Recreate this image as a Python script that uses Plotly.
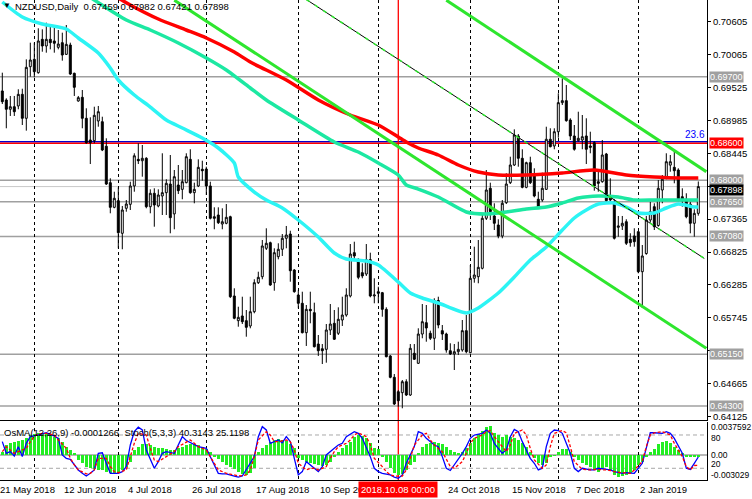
import plotly.graph_objects as go

FONT = "Liberation Sans, Arial, sans-serif"

# daily bars NZDUSD, May 2018 - Jan 2019
opens = [0.69466, 0.69318, 0.69166, 0.69208, 0.69220, 0.69411, 0.69018, 0.69864, 0.69985, 0.69766,
         0.70313, 0.70204, 0.70313, 0.70286, 0.70182, 0.70258, 0.70067, 0.70220, 0.69756, 0.69302,
         0.69362, 0.69018, 0.68662, 0.68651, 0.68974, 0.68962, 0.68560, 0.67962, 0.67558, 0.67667,
         0.67132, 0.67542, 0.67607, 0.67908, 0.68345, 0.68322, 0.68362, 0.67568, 0.67788, 0.67580,
         0.67744, 0.67798, 0.67940, 0.67450, 0.67924, 0.67853, 0.67962, 0.68345, 0.67798, 0.67908,
         0.68182, 0.68186, 0.67908, 0.67404, 0.67432, 0.67284, 0.67296, 0.67404, 0.66104, 0.65699,
         0.65776, 0.65699, 0.65612, 0.65846, 0.66322, 0.66420, 0.66886, 0.66978, 0.66322, 0.66748,
         0.66870, 0.67050, 0.67120, 0.66530, 0.66120, 0.65984, 0.65502, 0.65885, 0.65830, 0.65316,
         0.65239, 0.65229, 0.65546, 0.65656, 0.65492, 0.65710, 0.65792, 0.66104, 0.66814, 0.66705,
         0.66486, 0.66464, 0.66700, 0.66104, 0.66174, 0.66158, 0.65885, 0.65120, 0.64770, 0.64534,
         0.64518, 0.64698, 0.64480, 0.65164, 0.65000, 0.65480, 0.65666, 0.65492, 0.65410, 0.66030,
         0.65535, 0.65480, 0.65206, 0.65152, 0.65190, 0.65218, 0.65535, 0.65174, 0.66394, 0.66420,
         0.66558, 0.67378, 0.67870, 0.67416, 0.67268, 0.67088, 0.67634, 0.67962, 0.68252, 0.68728,
         0.68362, 0.67886, 0.68290, 0.68104, 0.67690, 0.67678, 0.67853, 0.68674, 0.68564, 0.68798,
         0.69274, 0.69307, 0.68990, 0.68728, 0.68651, 0.68662, 0.68728, 0.68564, 0.68618, 0.67978,
         0.67978, 0.68432, 0.67722, 0.67612, 0.67230, 0.67252, 0.67322, 0.67034, 0.67088, 0.67158,
         0.66502, 0.66800, 0.67350, 0.67568, 0.67260, 0.67842, 0.68034, 0.68250, 0.68214, 0.68170,
         0.67732, 0.67690, 0.67612, 0.67296, 0.67459]
highs = [0.69766, 0.69346, 0.69384, 0.69384, 0.69494, 0.69503, 0.69985, 0.70258, 0.70258, 0.70494,
         0.70477, 0.70586, 0.70548, 0.70532, 0.70466, 0.70422, 0.70548, 0.70258, 0.69766, 0.69384,
         0.69482, 0.69182, 0.69034, 0.69208, 0.69220, 0.69044, 0.68690, 0.68034, 0.67814, 0.67886,
         0.67580, 0.67678, 0.67978, 0.68444, 0.68608, 0.68580, 0.68380, 0.67853, 0.67870, 0.67853,
         0.68444, 0.68018, 0.68416, 0.68170, 0.68252, 0.68170, 0.68444, 0.68510, 0.67962, 0.68345,
         0.68322, 0.68224, 0.67978, 0.67558, 0.67558, 0.67542, 0.67612, 0.67420, 0.66230, 0.65928,
         0.66092, 0.65874, 0.66092, 0.66378, 0.66502, 0.67022, 0.67214, 0.66995, 0.66886, 0.66968,
         0.67120, 0.67252, 0.67174, 0.66545, 0.66198, 0.66174, 0.65956, 0.66174, 0.65994, 0.65464,
         0.65316, 0.65644, 0.65972, 0.65874, 0.65918, 0.66092, 0.66230, 0.66956, 0.66994, 0.66720,
         0.66640, 0.66956, 0.66814, 0.66394, 0.66256, 0.66170, 0.65918, 0.65136, 0.64824, 0.64560,
         0.64726, 0.64738, 0.65316, 0.65316, 0.65574, 0.65972, 0.65956, 0.65535, 0.66066, 0.66092,
         0.65628, 0.65502, 0.65328, 0.65316, 0.65354, 0.65710, 0.65792, 0.66612, 0.66912, 0.67022,
         0.67432, 0.68170, 0.67962, 0.67624, 0.67362, 0.67678, 0.68116, 0.68388, 0.68837, 0.68760,
         0.68510, 0.68306, 0.68388, 0.68198, 0.67814, 0.68126, 0.68880, 0.68854, 0.68854, 0.69428,
         0.69674, 0.69564, 0.69018, 0.68908, 0.69126, 0.69072, 0.69018, 0.68798, 0.68640, 0.68142,
         0.68662, 0.68450, 0.68034, 0.67690, 0.67416, 0.67416, 0.67362, 0.67132, 0.67214, 0.67170,
         0.66940, 0.67416, 0.67650, 0.67624, 0.68006, 0.68088, 0.68444, 0.68416, 0.68498, 0.68198,
         0.67870, 0.67788, 0.67650, 0.67525, 0.67982]
lows = [0.69252, 0.68854, 0.69056, 0.69056, 0.69166, 0.68908, 0.68815, 0.69700, 0.69690, 0.69750,
        0.70110, 0.70094, 0.70149, 0.70094, 0.70149, 0.69963, 0.70056, 0.69728, 0.69384, 0.69290,
        0.68854, 0.68600, 0.68268, 0.68608, 0.68880, 0.68480, 0.67924, 0.67460, 0.67542, 0.66886,
        0.66870, 0.67486, 0.67514, 0.67814, 0.68268, 0.68060, 0.67542, 0.67460, 0.67240, 0.67558,
        0.67432, 0.67432, 0.67132, 0.67198, 0.67776, 0.67690, 0.67952, 0.67780, 0.67624, 0.67890,
        0.67994, 0.67760, 0.67360, 0.67198, 0.67284, 0.67198, 0.67280, 0.66070, 0.65722, 0.65600,
        0.65644, 0.65436, 0.65574, 0.65820, 0.66300, 0.66378, 0.66858, 0.66270, 0.66190, 0.66705,
        0.66760, 0.66886, 0.66338, 0.66158, 0.65902, 0.65490, 0.65284, 0.65656, 0.65260, 0.65120,
        0.64988, 0.65010, 0.65464, 0.65382, 0.65464, 0.65612, 0.65764, 0.66080, 0.66694, 0.66378,
        0.66394, 0.66432, 0.66082, 0.65984, 0.65984, 0.65764, 0.65098, 0.64754, 0.64316, 0.64288,
        0.64262, 0.64464, 0.64464, 0.65054, 0.64988, 0.65410, 0.65354, 0.65382, 0.65218, 0.65574,
        0.65382, 0.65174, 0.65136, 0.64890, 0.65136, 0.65190, 0.65164, 0.65164, 0.66322, 0.66312,
        0.66540, 0.67350, 0.67350, 0.67186, 0.67050, 0.67050, 0.67612, 0.67940, 0.68236, 0.68224,
        0.67870, 0.67870, 0.67940, 0.67722, 0.67558, 0.67650, 0.67842, 0.68542, 0.68510, 0.68700,
        0.69236, 0.68962, 0.68662, 0.68487, 0.68634, 0.68510, 0.68268, 0.68444, 0.67830, 0.67814,
        0.67962, 0.67650, 0.67612, 0.67030, 0.67076, 0.67186, 0.66940, 0.66912, 0.66912, 0.66476,
        0.65907, 0.66780, 0.67306, 0.67186, 0.67240, 0.67624, 0.68018, 0.68142, 0.67952, 0.67660,
        0.67568, 0.67378, 0.67132, 0.67076, 0.67421]
closes = [0.69290, 0.69166, 0.69208, 0.69126, 0.69411, 0.69018, 0.69854, 0.69974, 0.69782, 0.70286,
          0.70204, 0.70313, 0.70258, 0.70248, 0.70236, 0.70056, 0.70231, 0.69744, 0.69526, 0.69356,
          0.69018, 0.68618, 0.68618, 0.69067, 0.69126, 0.68498, 0.67940, 0.67558, 0.67706, 0.67142,
          0.67514, 0.67612, 0.67908, 0.68403, 0.68322, 0.68362, 0.67568, 0.67788, 0.67596, 0.67760,
          0.67798, 0.67952, 0.67388, 0.68060, 0.67831, 0.67978, 0.68388, 0.67798, 0.67853, 0.68214,
          0.68158, 0.67908, 0.67378, 0.67378, 0.67306, 0.67322, 0.67394, 0.66092, 0.65738, 0.65754,
          0.65682, 0.65590, 0.65846, 0.66322, 0.66410, 0.66924, 0.66968, 0.66284, 0.66814, 0.66870,
          0.67050, 0.67104, 0.66518, 0.66174, 0.65984, 0.65502, 0.65885, 0.65862, 0.65272, 0.65206,
          0.65206, 0.65546, 0.65644, 0.65394, 0.65722, 0.65792, 0.66120, 0.66792, 0.66760, 0.66410,
          0.66432, 0.66700, 0.66104, 0.66120, 0.66148, 0.65885, 0.65108, 0.64770, 0.64332, 0.64386,
          0.64698, 0.64480, 0.65246, 0.65066, 0.65480, 0.65682, 0.65579, 0.65410, 0.66030, 0.65628,
          0.65480, 0.65218, 0.65152, 0.65190, 0.65229, 0.65535, 0.65190, 0.66394, 0.66448, 0.66574,
          0.67378, 0.67842, 0.67486, 0.67296, 0.67088, 0.67624, 0.67940, 0.68252, 0.68744, 0.68362,
          0.67886, 0.68290, 0.67962, 0.67744, 0.67568, 0.67870, 0.68674, 0.68552, 0.68798, 0.69274,
          0.69307, 0.68979, 0.68728, 0.68510, 0.68690, 0.68716, 0.68510, 0.68542, 0.67908, 0.67952,
          0.68416, 0.67667, 0.67678, 0.67050, 0.67252, 0.67296, 0.66968, 0.66978, 0.66994, 0.66502,
          0.66760, 0.67350, 0.67486, 0.67240, 0.67870, 0.68018, 0.68306, 0.68306, 0.68158, 0.67678,
          0.67678, 0.67404, 0.67296, 0.67459, 0.67898]
bars = list(range(len(closes)))

# moving averages, sampled along the curves (bar, price)
ma_fast_bar = [0, 5, 10, 16, 19, 24, 27, 29, 33, 37, 41, 45, 50, 54, 58, 59, 63, 66, 70, 74, 79, 83,
               86, 91, 94, 99, 102, 105, 109, 116, 119, 124, 128, 132, 136, 140, 143, 146, 149, 153,
               156, 159, 163, 166, 169, 173, 174]
ma_fast = [0.70925, 0.70679, 0.70564, 0.70482, 0.70335, 0.70089, 0.69843, 0.69646, 0.69400, 0.69203,
           0.68990, 0.68859, 0.68695, 0.68531, 0.68285, 0.68055, 0.67809, 0.67678, 0.67547, 0.67350,
           0.67071, 0.66809, 0.66710, 0.66678, 0.66612, 0.66333, 0.66153, 0.66071, 0.65989, 0.65825,
           0.65907, 0.66153, 0.66415, 0.66694, 0.66907, 0.67186, 0.67383, 0.67514, 0.67612, 0.67629,
           0.67563, 0.67465, 0.67465, 0.67547, 0.67612, 0.67563, 0.67563]
ma_mid_bar = [22, 31, 37, 44, 51, 56, 62, 66, 74, 83, 89, 94, 99, 101, 104, 109, 116, 121, 126, 131,
              136, 140, 144, 149, 154, 158, 163, 168, 174]
ma_mid = [0.71000, 0.70630, 0.70466, 0.70253, 0.70007, 0.69810, 0.69515, 0.69318, 0.68990, 0.68629,
          0.68465, 0.68285, 0.68088, 0.67924, 0.67858, 0.67727, 0.67481, 0.67448, 0.67481, 0.67530,
          0.67563, 0.67629, 0.67711, 0.67744, 0.67727, 0.67678, 0.67678, 0.67678, 0.67678]
ma_slow_bar = [29, 32, 39, 46, 51, 58, 62, 71, 79, 87, 94, 99, 101, 104, 109, 114, 119, 124, 131, 140,
               148, 156, 163, 169, 174]
ma_slow = [0.70991, 0.70876, 0.70646, 0.70466, 0.70335, 0.70105, 0.69941, 0.69646, 0.69318, 0.69072,
           0.68908, 0.68711, 0.68629, 0.68531, 0.68416, 0.68252, 0.68137, 0.68088, 0.68088, 0.68121,
           0.68170, 0.68088, 0.68055, 0.68039, 0.68039]

# channel / trend lines, two anchors each (bar, price)
chan_low_bar = [43, 176]
chan_low = [0.70955, 0.65246]
chan_up_bar = [111, 176]
chan_up = [0.70955, 0.68142]
chan_mid_bar = [76, 175.5]
chan_mid = [0.70966, 0.66720]

# horizontal levels
levels = [0.69700, 0.68000, 0.67650, 0.67080, 0.65150, 0.64300]
level_red = 0.68608
level_fibo = 0.68635
last_price = 0.67898
marker_bar = 99

price_ticks = [0.70605, 0.70065, 0.69525, 0.68985, 0.68445, 0.67905, 0.67365, 0.66825,
               0.66285, 0.65745, 0.65205, 0.64665, 0.64125]
hidden_ticks = [0.67905, 0.65205]  # covered by the price tags
grid_bars = [8, 29, 51, 74, 94, 117, 139, 159]
date_bars = [0, 16, 32, 48, 64, 80, 112, 128, 144, 160]
date_text = ["21 May 2018", "12 Jun 2018", "4 Jul 2018", "26 Jul 2018", "17 Aug 2018",
             "10 Sep 20", "24 Oct 2018", "15 Nov 2018", "7 Dec 2018", "2 Jan 2019"]

# OsMA(12,26,9) histogram, one value per bar
osma = [0.00041, 0.00123, 0.00144, 0.00164, 0.00177, 0.00185, 0.00206, 0.00247, 0.00259, 0.00275,
        0.00275, 0.00267, 0.00247, 0.00226, 0.00206, 0.00164, 0.00103, 0.00062, 0.00021, -0.00062,
        -0.00103, -0.00144, -0.00164, -0.00177, -0.00185, -0.00185, -0.00206, -0.00218, -0.00226, -0.00218,
        -0.00185, -0.00144, -0.00082, 0.00062, 0.00103, 0.00136, 0.00136, 0.00123, 0.00103, 0.00082,
        0.00082, 0.00070, 0.00062, 0.00062, 0.00082, 0.00103, 0.00123, 0.00136, 0.00136, 0.00123,
        0.00103, 0.00070, 0.00041, -0.00021, -0.00053, -0.00082, -0.00123, -0.00144, -0.00177, -0.00206,
        -0.00234, -0.00247, -0.00226, -0.00164, 0.00041, 0.00082, 0.00123, 0.00164, 0.00185, 0.00193,
        0.00185, 0.00177, 0.00136, 0.00082, -0.00041, -0.00062, -0.00082, -0.00095, -0.00111, -0.00123,
        -0.00136, -0.00123, -0.00082, -0.00029, 0.00041, 0.00082, 0.00123, 0.00164, 0.00226, 0.00247,
        0.00234, 0.00206, 0.00144, 0.00082, 0.00070, -0.00021, -0.00082, -0.00164, -0.00226, -0.00247,
        -0.00234, -0.00185, -0.00123, -0.00082, 0.00021, 0.00103, 0.00136, 0.00144, 0.00164, 0.00152,
        0.00136, 0.00103, 0.00062, 0.00041, 0.00029, 0.00041, 0.00082, 0.00144, 0.00206, 0.00259,
        0.00300, 0.00349, 0.00358, 0.00275, 0.00247, 0.00226, 0.00247, 0.00226, 0.00206, 0.00185,
        0.00152, 0.00103, 0.00041, -0.00041, -0.00095, -0.00123, -0.00095, -0.00029, -0.00012, 0.00041,
        0.00070, 0.00070, 0.00041, -0.00029, -0.00062, -0.00095, -0.00123, -0.00144, -0.00185, -0.00206,
        -0.00177, -0.00144, -0.00185, -0.00247, -0.00267, -0.00259, -0.00247, -0.00226, -0.00185, -0.00123,
        -0.00082, -0.00029, 0.00041, 0.00070, 0.00136, 0.00164, 0.00177, 0.00152, 0.00103, 0.00062,
        0.00029, -0.00021, -0.00029, -0.00021, -0.00013]

# Stochastic(5,3,3): main and signal
stoch_bar = [0, 1, 2, 3, 4, 5, 6, 7, 9, 10, 11, 13, 14, 15, 16, 17, 19, 20, 21, 22, 23, 24, 25, 26, 27,
             29, 30, 31, 32, 33, 34, 35, 36, 38, 39, 40, 41, 43, 44, 45, 46, 48, 49, 51, 52, 53, 54,
             55, 56, 58, 59, 60, 61, 63, 64, 65, 66, 67, 69, 70, 71, 72, 73, 74, 75, 76, 78, 79, 80,
             81, 83, 84, 85, 86, 88, 89, 90, 91, 92, 93, 94, 95, 97, 98, 99, 100, 101, 103, 104, 105,
             106, 108, 109, 110, 111, 112, 113, 115, 116, 117, 118, 120, 121, 122, 123, 125, 126, 127,
             128, 129, 130, 132, 133, 134, 135, 136, 137, 138, 139, 140, 142, 143, 144, 145, 147, 148,
             149, 151, 152, 153, 155, 156, 157, 158, 160, 161, 162, 163, 165, 166, 167, 168, 170, 171,
             172, 173, 174]
stoch_main = [68, 47, 50, 42, 59, 41, 65, 77, 80, 82, 84, 78, 74, 44, 38, 36, 17, 11, 6, 11, 17, 47, 48,
              29, 11, 11, 14, 23, 62, 86, 94, 89, 53, 20, 32, 47, 50, 47, 62, 77, 70, 62, 59, 56, 41,
              23, 11, 10, 10, 6, 4, 6, 17, 41, 77, 95, 89, 65, 71, 66, 77, 68, 38, 8, 14, 32, 20, 14,
              23, 44, 56, 62, 65, 77, 86, 83, 74, 59, 41, 20, 14, 11, 8, 4, 2, 8, 29, 59, 86, 83, 74,
              62, 59, 41, 20, 16, 26, 47, 59, 74, 80, 83, 89, 83, 65, 47, 53, 77, 90, 86, 68, 38, 29,
              17, 20, 59, 83, 89, 88, 83, 47, 20, 14, 20, 17, 17, 20, 18, 17, 14, 11, 12, 11, 11, 29,
              59, 84, 84, 83, 86, 83, 74, 47, 20, 18, 29, 40.3143]
signal_bar = [0, 1, 2, 3, 4, 6, 7, 8, 9, 11, 13, 14, 16, 17, 18, 19, 21, 22, 23, 24, 26, 27, 28, 29, 31,
              32, 33, 34, 36, 37, 38, 39, 41, 42, 43, 44, 46, 47, 48, 49, 51, 52, 53, 54, 56, 57, 58,
              59, 61, 62, 63, 64, 66, 67, 68, 69, 71, 72, 73, 74, 76, 77, 78, 79, 81, 82, 83, 84, 86,
              87, 88, 89, 91, 92, 93, 95, 96, 97, 98, 100, 101, 102, 103, 105, 106, 107, 108, 110, 111,
              112, 113, 115, 116, 117, 118, 120, 121, 122, 123, 125, 126, 127, 128, 130, 131, 132, 133,
              135, 136, 137, 138, 140, 141, 142, 143, 145, 146, 147, 148, 150, 151, 152, 153, 155, 156,
              157, 158, 160, 161, 162, 163, 165, 166, 167, 168, 170, 171, 172, 173, 174]
stoch_signal = [50, 59, 53, 47, 50, 56, 68, 77, 82, 83, 80, 71, 56, 38, 26, 17, 10, 11, 17, 38, 38, 23,
                14, 12, 17, 41, 65, 83, 80, 56, 35, 32, 41, 47, 50, 59, 68, 71, 65, 59, 53, 41, 29, 17,
                11, 10, 8, 6, 8, 17, 41, 71, 86, 80, 68, 68, 71, 68, 53, 29, 17, 20, 20, 17, 23, 38, 50,
                59, 65, 71, 80, 84, 77, 62, 38, 23, 14, 8, 6, 6, 17, 38, 62, 80, 83, 71, 62, 50, 35, 23,
                20, 32, 47, 65, 74, 80, 86, 88, 77, 59, 50, 62, 83, 89, 80, 56, 35, 20, 26, 59, 83, 88,
                84, 59, 32, 18, 17, 17, 18, 18, 17, 16, 14, 12, 11, 11, 17, 32, 59, 80, 84, 86, 83, 80,
                65, 41, 23, 17, 25, 25.1198]

x_range = [-0.575, 176.175]
PH = 480.0  # plot area height in px (for paper coords)


def py(px):
    return 1 - px / PH


fig = go.Figure()

fig.add_trace(go.Candlestick(
    x=bars, open=opens, high=highs, low=lows, close=closes,
    increasing=dict(line=dict(color="black", width=1), fillcolor="white"),
    decreasing=dict(line=dict(color="black", width=1), fillcolor="black"),
    whiskerwidth=0, hoverinfo="skip", showlegend=False, xaxis="x", yaxis="y"))

for xs, ys, col, w in [(ma_fast_bar, ma_fast, "#2CF4F4", 3.5),
                       (ma_mid_bar, ma_mid, "#1CE8A2", 3.5),
                       (ma_slow_bar, ma_slow, "#FF0000", 3.5)]:
    fig.add_trace(go.Scatter(x=xs, y=ys, mode="lines", line=dict(color=col, width=w, shape="spline", smoothing=0.6),
                             hoverinfo="skip", showlegend=False, xaxis="x", yaxis="y"))

for xs, ys in [(chan_low_bar, chan_low), (chan_up_bar, chan_up)]:
    fig.add_trace(go.Scatter(x=xs, y=ys, mode="lines", line=dict(color="#2EE62E", width=3),
                             hoverinfo="skip", showlegend=False, xaxis="x", yaxis="y"))
fig.add_trace(go.Scatter(x=chan_mid_bar, y=chan_mid, mode="lines", line=dict(color="black", width=1),
                         hoverinfo="skip", showlegend=False, xaxis="x", yaxis="y"))
fig.add_trace(go.Scatter(x=chan_mid_bar, y=chan_mid, mode="lines",
                         line=dict(color="#2EE62E", width=1.5, dash="4px,6px"),
                         hoverinfo="skip", showlegend=False, xaxis="x", yaxis="y"))

# indicator window
fig.add_trace(go.Bar(x=bars, y=osma, width=0.75, marker=dict(color="#22EE22", line=dict(width=0)),
                     hoverinfo="skip", showlegend=False, xaxis="x2", yaxis="y2"))
fig.add_trace(go.Scatter(x=stoch_bar, y=stoch_main, mode="lines", line=dict(color="#0000FF", width=1.3),
                         hoverinfo="skip", showlegend=False, xaxis="x2", yaxis="y3"))
fig.add_trace(go.Scatter(x=signal_bar, y=stoch_signal, mode="lines",
                         line=dict(color="#FF0000", width=1.3, dash="3px,2px"),
                         hoverinfo="skip", showlegend=False, xaxis="x2", yaxis="y3"))

# horizontal levels
for lvl in levels:
    fig.add_shape(type="line", xref="paper", x0=0, x1=1, yref="y", y0=lvl, y1=lvl,
                  line=dict(color="#A0A0A0", width=1.5), layer="between")
fig.add_shape(type="line", xref="paper", x0=0, x1=1, yref="y", y0=last_price, y1=last_price,
              line=dict(color="#C8C8C8", width=1), layer="between")
fig.add_shape(type="line", xref="paper", x0=0, x1=1, yref="y", y0=level_fibo, y1=level_fibo,
              line=dict(color="#0000CC", width=1.5), layer="between")
fig.add_shape(type="line", xref="paper", x0=0, x1=1, yref="y", y0=level_red, y1=level_red,
              line=dict(color="#FF0000", width=1.5), layer="between")
fig.add_shape(type="line", xref="x", x0=marker_bar, x1=marker_bar, yref="paper", y0=0, y1=1,
              line=dict(color="#FF0000", width=1.3), layer="between")
for v in [80, 20]:
    fig.add_shape(type="line", xref="paper", x0=0, x1=1, yref="y3", y0=v, y1=v,
                  line=dict(color="#A8A8A8", width=1, dash="4px,3px"), layer="between")
fig.add_shape(type="line", xref="paper", x0=0, x1=1, yref="y2", y0=0, y1=0,
              line=dict(color="#A0A0A0", width=1.5), layer="between")

ann = []
ann.append(dict(text="▼", xref="paper", yref="paper", x=1 / 707, y=py(6), xanchor="left",
                yanchor="middle", showarrow=False, font=dict(size=8, color="black")))
ann.append(dict(text="NZDUSD,Daily  0.67459 0.67982 0.67421 0.67898", xref="paper", yref="paper",
                x=13 / 707, y=py(7), xanchor="left", yanchor="middle", showarrow=False,
                font=dict(size=9.5, color="black")))
ann.append(dict(text="OsMA(12,26,9) -0.0001266  Stoch(5,3,3) 40.3143 25.1198", xref="paper",
                yref="paper", x=2 / 707, y=py(432), xanchor="left", yanchor="middle",
                showarrow=False, font=dict(size=9.5, color="black")))

# price tags on the right
for lvl in levels:
    ann.append(dict(text=f"{lvl:.5f}", xref="paper", yref="y", x=709 / 707, y=lvl, xanchor="left",
                    yanchor="middle", showarrow=False, bgcolor="#A0A0A0", borderpad=0,
                    font=dict(size=9, color="white")))
ann.append(dict(text="0.68600", xref="paper", yref="y", x=709 / 707, y=level_red, xanchor="left",
                yanchor="middle", showarrow=False, bgcolor="#FF0000", borderpad=0,
                font=dict(size=9, color="white")))
ann.append(dict(text=f"{last_price:.5f}", xref="paper", yref="y", x=709 / 707, y=last_price,
                xanchor="left", yanchor="top", yshift=3, showarrow=False, bgcolor="black", borderpad=0,
                font=dict(size=9, color="white")))
ann.append(dict(text="23.6", xref="paper", yref="y", x=1, y=level_fibo, xanchor="right",
                yanchor="bottom", showarrow=False, font=dict(size=10, color="#0000FF")))

# indicator window scale texts
for txt, ypx in [("0.0037592", 427), ("80", 438), ("0.00", 455), ("20", 464), ("-0.003029", 475)]:
    ann.append(dict(text=txt, xref="paper", yref="paper", x=709 / 707, y=py(ypx), xanchor="left",
                    yanchor="middle", showarrow=False, font=dict(size=8.5, color="black")))

# time axis
for b, t in zip(date_bars, date_text):
    ann.append(dict(text=t, xref="x", yref="paper", x=b, y=py(489), xanchor="left", xshift=-4,
                    yanchor="middle", showarrow=False, font=dict(size=9.5, color="black")))
ann.append(dict(text="2018.10.08 00:00", xref="x", yref="paper", x=marker_bar, y=py(489),
                xanchor="center", yanchor="middle", showarrow=False, bgcolor="#FF0000", borderpad=2,
                font=dict(size=9.5, color="white")))

axis_x = dict(range=x_range, showticklabels=False, tickvals=grid_bars, ticks="", showgrid=True,
              gridcolor="black", gridwidth=1, griddash="3px,3px", zeroline=False,
              rangeslider=dict(visible=False), showline=True, linecolor="black", linewidth=1)

fig.update_layout(
    width=752, height=499,
    margin=dict(l=0, r=45, t=0, b=19),
    paper_bgcolor="white", plot_bgcolor="white",
    font=dict(family=FONT, size=9.5, color="black"),
    showlegend=False, bargap=0,
    xaxis=dict(axis_x, anchor="y"),
    xaxis2=dict(axis_x, anchor="y2", matches="x"),
    yaxis=dict(domain=[60 / PH, 1], range=[0.64070, 0.70958], side="right", anchor="x",
               tickvals=price_ticks,
               ticktext=["" if v in hidden_ticks else f"{v:.5f}" for v in price_ticks],
               ticks="outside", ticklen=3, tickcolor="black", showgrid=False, zeroline=False,
               showline=True, linecolor="black", linewidth=1,
               tickfont=dict(size=9.5, color="black")),
    yaxis2=dict(domain=[0, 58 / PH], range=[-0.003085, 0.004072], side="right", anchor="x2",
                showticklabels=False, ticks="", showgrid=False, zeroline=False,
                showline=True, linecolor="black", linewidth=1),
    yaxis3=dict(overlaying="y2", range=[-1.1, 103.4], visible=False),
    annotations=ann,
)

fig.write_html("out.html", config={"displayModeBar": False},
               post_script="document.body.style.margin='0';")
